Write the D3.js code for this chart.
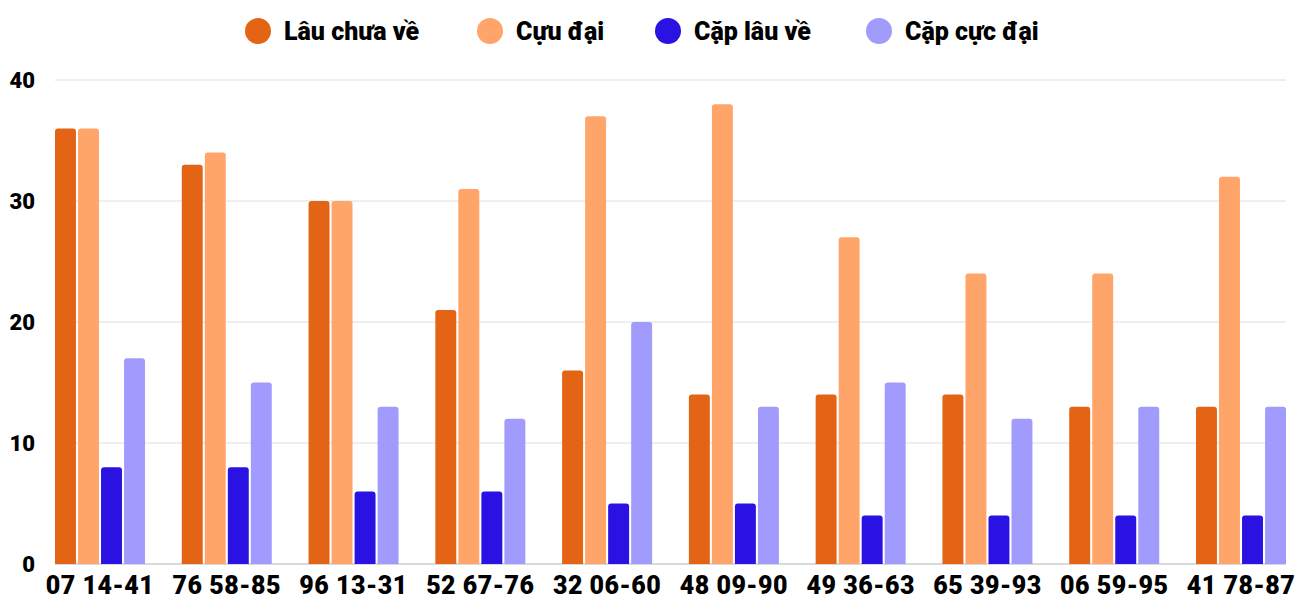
<!DOCTYPE html>
<html>
<head>
<meta charset="utf-8">
<script src="https://cdn.jsdelivr.net/npm/d3@7"></script>
<style>
  body { margin: 0; background: #fff; }
  text { font-family: Roboto, "Noto Sans", sans-serif; font-weight: 900; fill: #000; }
</style>
</head>
<body>
<div id="chart"></div>
<script>
// Chart data
const categories = ['07 14-41', '76 58-85', '96 13-31', '52 67-76', '32 06-60',
  '48 09-90', '49 36-63', '65 39-93', '06 59-95', '41 78-87'];
const seriesNames = ['Lâu chưa về', 'Cựu đại', 'Cặp lâu về', 'Cặp cực đại'];
const lauChuaVe = [36, 33, 30, 21, 16, 14, 14, 14, 13, 13];
const cuuDai = [36, 34, 30, 31, 37, 38, 27, 24, 24, 32];
const capLauVe = [8, 8, 6, 6, 5, 5, 4, 4, 4, 4];
const capCucDai = [17, 15, 13, 12, 20, 13, 15, 12, 13, 13];
const yTicks = [0, 10, 20, 30, 40];

const colors = ['#e36414', '#ffa56a', '#2a12e3', '#a29bfe'];
const series = [lauChuaVe, cuuDai, capLauVe, capCucDai];

const width = 1300, height = 600;
const margin = { top: 80, right: 14, bottom: 36, left: 55 };

const svg = d3.select('#chart').append('svg')
  .attr('width', width)
  .attr('height', height);

const x0 = d3.scaleBand()
  .domain(categories)
  .range([margin.left, width - margin.right])
  .paddingInner(0.29)
  .paddingOuter(0);

const x1 = d3.scaleBand()
  .domain(d3.range(series.length))
  .range([0, x0.bandwidth()])
  .paddingInner(0.09);

const y = d3.scaleLinear()
  .domain([0, 40])
  .range([height - margin.bottom, margin.top]);

// Grid lines
svg.append('g')
  .selectAll('line')
  .data(yTicks)
  .join('line')
  .attr('x1', margin.left)
  .attr('x2', width - margin.right)
  .attr('y1', d => y(d))
  .attr('y2', d => y(d))
  .attr('stroke', d => d === 0 ? '#d9d9d9' : '#dedede')
  .attr('stroke-width', d => d === 0 ? 2 : 1);

// Y axis labels
svg.append('g')
  .call(d3.axisLeft(y).tickValues(yTicks).tickSize(0).tickPadding(0))
  .attr('transform', `translate(35,0)`)
  .call(g => g.select('.domain').remove())
  .call(g => g.selectAll('text')
    .attr('dy', '0.35em')
    .style('font-size', '22px')
    .style('font-family', 'Roboto, sans-serif')
    .style('font-weight', 900)
    .attr('fill', '#000'));

// Bars with rounded tops
const r = 3;
function barPath(x, yTop, w, yBase) {
  const rr = Math.min(r, (yBase - yTop) / 2, w / 2);
  return `M${x},${yBase}V${yTop + rr}Q${x},${yTop} ${x + rr},${yTop}` +
    `H${x + w - rr}Q${x + w},${yTop} ${x + w},${yTop + rr}V${yBase}Z`;
}

const groups = svg.append('g')
  .selectAll('g')
  .data(categories)
  .join('g')
  .attr('transform', d => `translate(${x0(d)},0)`);

groups.selectAll('path')
  .data((d, i) => series.map((s, k) => ({ k, v: s[i] })))
  .join('path')
  .attr('fill', d => colors[d.k])
  .attr('d', d => barPath(x1(d.k), y(d.v), x1.bandwidth(), y(0)));

// X axis labels
svg.append('g')
  .attr('transform', `translate(0,${y(0)})`)
  .call(d3.axisBottom(x0).tickSize(0).tickPadding(12))
  .call(g => g.select('.domain').remove())
  .call(g => g.selectAll('text')
    .attr('dy', '0.71em')
    .style('font-size', '25px')
    .style('font-family', 'Roboto, sans-serif')
    .style('font-weight', 900)
    .style('letter-spacing', '0.5px')
    .attr('fill', '#000'));

// Legend
const legendX = [258, 490, 668, 879];
const legend = svg.append('g')
  .selectAll('g')
  .data(seriesNames)
  .join('g')
  .attr('transform', (d, i) => `translate(${legendX[i]},31)`);

legend.append('ellipse')
  .attr('rx', 13)
  .attr('ry', 13)
  .attr('fill', (d, i) => colors[i]);

legend.append('text')
  .attr('x', 26)
  .attr('dy', '0.35em')
  .style('font-size', '25px')
  .text(d => d);
</script>
</body>
</html>
